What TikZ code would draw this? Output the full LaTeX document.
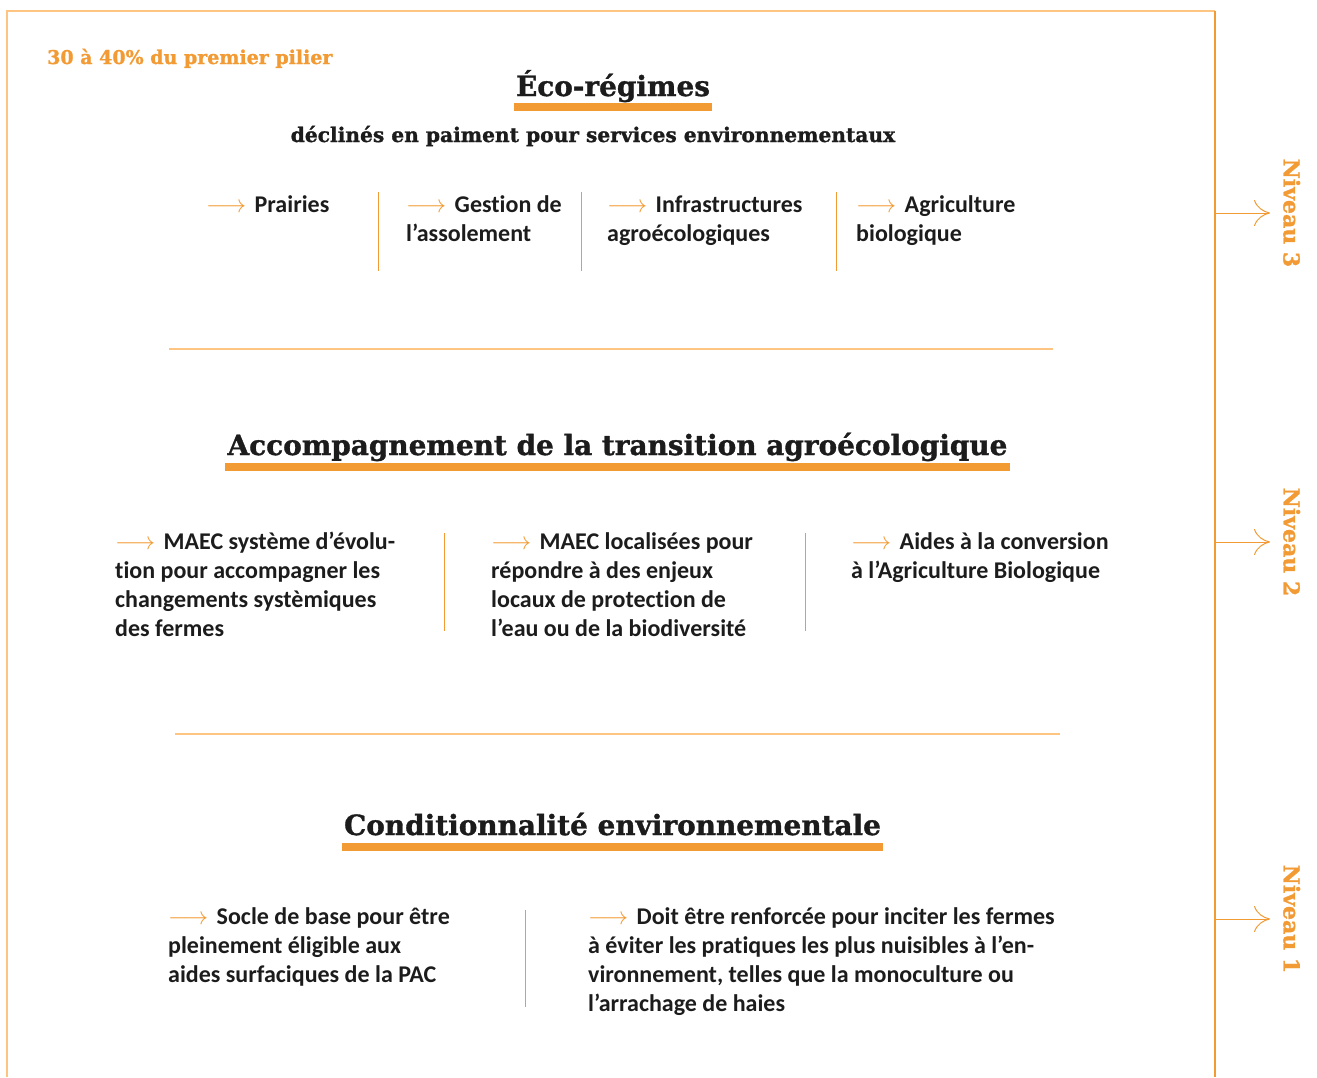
\documentclass[tikz,border=0pt]{standalone}
\usepackage{fontspec}
\setmainfont{Carlito}[Ligatures={TeX,NoCommon}]
\newfontfamily\slabfont{DejaVu Serif}[BoldFeatures={FakeBold=1.2}]
\usetikzlibrary{arrows.meta,positioning}

\definecolor{ocre}{RGB}{242,154,52}
\definecolor{ocrepale}{RGB}{253,196,130}
\definecolor{encre}{RGB}{28,28,28}

\newcommand{\itemfont}{\fontsize{24}{29}\selectfont\bfseries}
\newcommand{\titrefont}{\slabfont\bfseries\fontsize{27.9}{32}\selectfont}
\newcommand{\soustitrefont}{\slabfont\bfseries\fontsize{20.2}{24}\selectfont}
\newcommand{\partfont}{\slabfont\bfseries\fontsize{19}{22}\selectfont}
\newcommand{\niveaufont}{\slabfont\bfseries\fontsize{22}{26}\selectfont}
\newcommand{\fleche}{\strut{\color{ocre}$\longrightarrow$}\hspace{3pt}\ }

\begin{document}
\begin{tikzpicture}[x=1pt, y=-1pt,
        item/.style={anchor=north west, align=left, inner sep=0pt, font=\itemfont, text=encre},
        titre/.style={anchor=base, inner xsep=2pt, inner ysep=0pt, font=\titrefont, text=encre},
        barre/.style={draw=ocre, line width=8pt},
        filet/.style={draw=ocrepale, line width=1.6pt},
        sep/.style={draw=ocre, line width=1pt},
        niveau/.style={rotate=-90, anchor=south, inner sep=0pt, font=\niveaufont, text=ocre},
        fleche niveau/.style={draw=ocre, line width=1pt, shorten >=13pt, -{Computer Modern Rightarrow[length=16pt,width=26pt]}}]
    \useasboundingbox (0,0) rectangle (1317,1077);

    % cadre, ouvert en bas
    \draw[ocrepale, line width=1.5pt] (7,1077) -- (7,11) -- (1215,11);
    \draw[ocre, line width=1.5pt] (1215,11) -- (1215,1077);

    % niveau 3
    \node[anchor=base west, inner sep=0pt, font=\partfont, text=ocre] (part) at (47,64) {30 à 40\% du premier pilier};
    \node[titre] (eco) at (613,96) {Éco-régimes};
    \draw[barre] ([yshift=-11pt]eco.base west) -- ([yshift=-11pt]eco.base east);   % souligne "Éco-régimes"
    \node[anchor=base, font=\soustitrefont, text=encre] (declin) at (593,142) {déclinés en paiment pour services environnementaux};

    \node[item] (prairies) at (206,192) {\fleche Prairies};
    \node[item] (assol) at (406,192) {\fleche Gestion de\\l’assolement};
    \node[item] (infra) at (607,192) {\fleche Infrastructures\\agroécologiques};
    \node[item] (bio) at (856,192) {\fleche Agriculture\\biologique};
    \draw[sep] (378,192) -- (378,271);   % entre prairies et assolement
    \draw[sep] (581,192) -- (581,271);   % entre assolement et infra
    \draw[sep] (836,192) -- (836,271);   % entre infra et bio

    \draw[filet] (169,349) -- (1053,349);

    % niveau 2
    \node[titre] (accomp) at (617.5,455) {Accompagnement de la transition agroécologique};
    \draw[barre] ([yshift=-12pt]accomp.base west) -- ([yshift=-12pt]accomp.base east);   % souligne le titre

    \node[item] (maecsys) at (115,529) {\fleche MAEC système d’évolu-\\tion pour accompagner les\\changements systèmiques\\des fermes};
    \node[item] (maecloc) at (491,529) {\fleche MAEC localisées pour\\répondre à des enjeux\\locaux de protection de\\l’eau ou de la biodiversité};
    \node[item] (aides) at (851,529) {\fleche Aides à la conversion\\à l’Agriculture Biologique};
    \draw[sep] (444,533) -- (444,631);   % entre maecsys et maecloc
    \draw[sep] (805,533) -- (805,631);   % entre maecloc et aides

    \draw[filet] (175,734) -- (1060,734);

    % niveau 1
    \node[titre] (condit) at (612.5,835) {Conditionnalité environnementale};
    \draw[barre] ([yshift=-11.5pt]condit.base west) -- ([yshift=-11.5pt]condit.base east);   % souligne le titre

    \node[item] (socle) at (168,904) {\fleche Socle de base pour être\\pleinement éligible aux\\aides surfaciques de la PAC};
    \node[item] (renfort) at (588,904) {\fleche Doit être renforcée pour inciter les fermes\\à éviter les pratiques les plus nuisibles à l’en-\\vironnement, telles que la monoculture ou\\l’arrachage de haies};
    \draw[sep] (525,910) -- (525,1007);   % entre socle et renfort

    % niveaux sur le bord droit
    \coordinate (n3) at (1215,213);
    \coordinate (n2) at (1215,542);
    \coordinate (n1) at (1215,919);
    \node[niveau] (niv3) at (1283,213) {Niveau 3};
    \node[niveau] (niv2) at (1283,542) {Niveau 2};
    \node[niveau] (niv1) at (1283,919) {Niveau 1};
    \draw[fleche niveau] (n3) -- (niv3.south);
    \draw[fleche niveau] (n2) -- (niv2.south);
    \draw[fleche niveau] (n1) -- (niv1.south);
\end{tikzpicture}
\end{document}
